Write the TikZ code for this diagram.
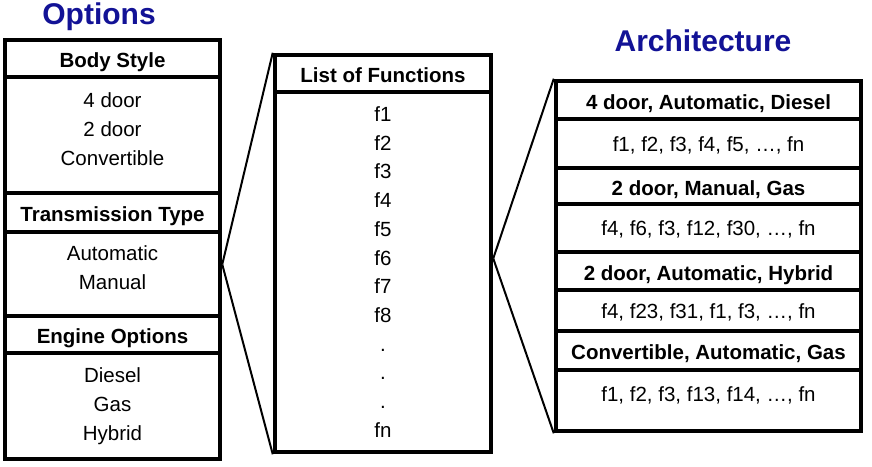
\documentclass[tikz,border=0pt]{standalone}
\usepackage{fontspec}
\setmainfont{Liberation Sans}
\usepackage{xcolor}
\usepackage{tikz}
\usetikzlibrary{positioning}
\definecolor{titleblue}{RGB}{18,18,150}

\begin{document}
\begin{tikzpicture}[
  x=1pt, y=-1pt,
  every node/.style={font=\fontsize{20.5}{28.7}\selectfont, inner sep=0pt},
  sec/.style={rectangle, draw, line width=4.5pt, minimum width=#1, align=center},
  oneline/.style={text height=15pt, text depth=0pt},
  hd/.style={text height=18.5pt, text depth=0pt, font=\fontsize{20.5}{28.7}\selectfont\bfseries},
  title/.style={font=\fontsize{30}{36}\selectfont\bfseries, text=titleblue, anchor=base},
  link/.style={line width=2pt},
]
\useasboundingbox (0,0) rectangle (872,466);

\node[title] (optitle) at (99,24) {Options};
\node[title] (archtitle) at (703,51) {Architecture};

\node[sec=215pt, minimum height=37pt, hd] (bodyhd) at (112.5,58.5) {Body Style};
\node[sec=215pt, minimum height=116pt] (bodyfr) at (112.5,135) {};
\node[align=center, below=18pt of bodyfr.north] (bodytxt) {4 door\\2 door\\Convertible};
\node[sec=215pt, minimum height=39pt, hd] (transhd) at (112.5,212.5) {Transmission Type};
\node[sec=215pt, minimum height=84pt] (transfr) at (112.5,274) {};
\node[align=center, below=16pt of transfr.north] (transtxt) {Automatic\\Manual};
\node[sec=215pt, minimum height=37pt, hd] (enghd) at (112.5,334.5) {Engine Options};
\node[sec=215pt, minimum height=106pt] (engfr) at (112.5,406) {};
\node[align=center, below=17pt of engfr.north] (engtxt) {Diesel\\Gas\\Hybrid};

\node[sec=216pt, minimum height=37pt, hd] (listhd) at (383,73.5) {List of Functions};
\node[sec=216pt, minimum height=360pt] (funcfr) at (383,272)
  {f1\\f2\\f3\\f4\\f5\\f6\\f7\\f8\\.\\.\\.\\fn};

\node[sec=305pt, minimum height=38pt, hd] (archhda) at (708.5,100) {4 door, Automatic, Diesel};
\node[sec=305pt, minimum height=49pt, oneline] (archfa) at (708.5,143.5) {f1, f2, f3, f4, f5, \dots, fn};
\node[sec=305pt, minimum height=36pt, hd] (archhdb) at (708.5,186) {2 door, Manual, Gas};
\node[sec=305pt, minimum height=48pt, oneline] (archfb) at (708.5,228) {f4, f6, f3, f12, f30, \dots, fn};
\node[sec=305pt, minimum height=38pt, hd] (archhdc) at (708.5,271) {2 door, Automatic, Hybrid};
\node[sec=305pt, minimum height=41pt, oneline] (archfc) at (708.5,310.5) {f4, f23, f31, f1, f3, \dots, fn};
\node[sec=305pt, minimum height=39pt, hd] (archhdd) at (708.5,350.5) {Convertible, Automatic, Gas};
\node[sec=305pt, minimum height=61pt] (archfr) at (708.5,400.5) {};
\node[below=19pt of archfr.north] (archtxt) {f1, f2, f3, f13, f14, \dots, fn};

\draw[link] (transfr.5) -- (listhd.north west);
\draw[link] (transfr.5) -- (funcfr.south west);
\draw[link] (funcfr.7) -- (archhda.north west);
\draw[link] (funcfr.7) -- (archfr.south west);
\end{tikzpicture}
\end{document}
